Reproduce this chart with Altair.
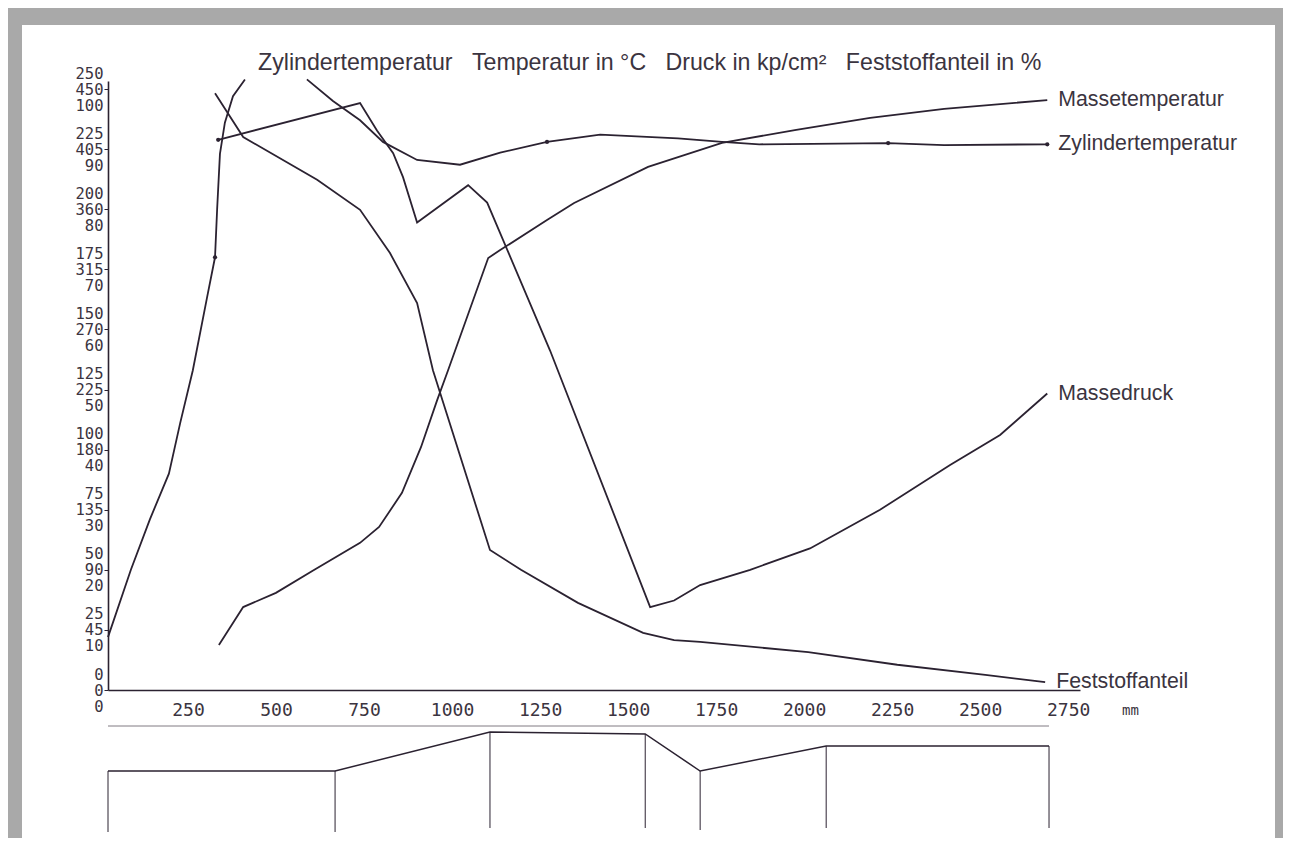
import altair as alt
import pandas as pd

INK = "#2b2231"
TXT = "#3b3440"
GRAU = "#a9a9a9"

TITEL = "Zylindertemperatur\u00a0\u00a0\u00a0Temperatur in °C\u00a0\u00a0\u00a0Druck in kp/cm²\u00a0\u00a0\u00a0Feststoffanteil in %"

# x in mm; temperatures in °C (0-250 scale), pressure in kp/cm² (0-450 scale), solids in % (0-100 scale)
zyl_a_x = [0, 65, 119, 173, 205, 241, 281, 304, 310, 318, 332, 355, 389]
zyl_a_y = [22, 50, 71, 90, 111, 133, 163, 180, 200, 223, 236, 247, 254]
zyl_c_x = [565, 639, 716, 781, 878, 1000, 1114, 1247, 1398, 1619, 1744, 1850, 2216, 2375, 2668]
zyl_c_y = [254, 245, 237, 228, 220.5, 218.5, 223.5, 228, 231, 229.5, 228, 227, 227.5, 226.7, 227]
masse_t_x = [315, 384, 477, 585, 716, 770, 835, 889, 935, 966, 1080, 1114, 1247, 1324, 1534, 1744, 1955, 2165, 2375, 2668]
masse_t_y = [18.7, 34.5, 40.4, 49.9, 61.2, 67.8, 82, 101, 120.6, 133, 179.7, 183, 195.5, 202.6, 217.6, 227.6, 233, 238, 241.7, 245.4]
druck_x = [313, 716, 764, 810, 838, 878, 1023, 1077, 1256, 1540, 1608, 1682, 1824, 1994, 2193, 2392, 2534, 2668]
druck_y = [412, 439.5, 419, 402, 384, 350, 378, 365, 254, 62, 67, 78.6, 90, 106, 135, 168.5, 191, 222]
fest_x = [304, 384, 594, 716, 801, 878, 923, 1085, 1173, 1335, 1520, 1608, 1682, 1989, 2242, 2492, 2662]
fest_y = [99.3, 92, 84.9, 79.9, 72.7, 64.4, 53.2, 23.3, 20, 14.5, 9.5, 8.3, 8, 6.3, 4.2, 2.5, 1.3]

punkte_zyl = [304, 1247, 2216, 2668]
punkte_druck = [313]

# screw profile (schematic below the axis)
schnecke_x = [0, 645, 1085, 1526, 1682, 2040, 2673]
schnecke_h = [61, 61, 100, 98, 61, 86, 86]
schnecke_fuss = [0, 0, 4, 4, 2, 4, 4]
schnecke_oben = 106

y_ticks = [0, 45, 90, 135, 180, 225, 270, 315, 360, 405, 450]
x_ticks = [0, 250, 500, 750, 1000, 1250, 1500, 1750, 2000, 2250, 2500, 2750]

rows = []


def add(name, seg, xs, ys, factor, dots=()):
    for x, v in zip(xs, ys):
        rows.append({"kurve": name, "seg": seg, "x": x, "wert": v, "y": v * factor, "dot": x in dots})


add("Zylindertemperatur", "za", zyl_a_x, zyl_a_y, 1.8, punkte_zyl)
add("Zylindertemperatur", "zc", zyl_c_x, zyl_c_y, 1.8, punkte_zyl)
add("Massetemperatur", "mt", masse_t_x, masse_t_y, 1.8)
add("Massedruck", "md", druck_x, druck_y, 1.0, punkte_druck)
add("Feststoffanteil", "fs", fest_x, fest_y, 4.5)
df = pd.DataFrame(rows)

ends = []
for name, seg in [("Massetemperatur", "mt"), ("Zylindertemperatur", "zc"), ("Massedruck", "md"), ("Feststoffanteil", "fs")]:
    sub = df[df.seg == seg]
    last = sub.iloc[-1]
    ends.append({"name": name, "x": float(last.x), "y": float(last.y)})
end_df = pd.DataFrame(ends)

schn_df = pd.DataFrame({"x": schnecke_x, "h": schnecke_h, "fuss": schnecke_fuss})
oben_df = pd.DataFrame({"x": [schnecke_x[0]], "x2": [schnecke_x[-1]], "h": [schnecke_oben]})

x_axis = alt.Axis(
    values=x_ticks, format="d", labelExpr="datum.value == 0 ? '' : datum.label",
    labelFont="DejaVu Sans Mono", labelFontSize=18, labelColor=TXT, labelPadding=11,
    labelOffset=-8, tickSize=0, domainColor=INK, domainWidth=1.6, grid=False,
    labelOverlap=False, labelFlush=False, zindex=1,
    title="mm", titleFont="DejaVu Sans Mono", titleFontSize=14, titleFontWeight="normal",
    titleColor=TXT, titleX=1022, titleY=20, titleAlign="center", titleBaseline="middle", titleAngle=0,
)
x_scale = alt.Scale(domain=[0, 2761], nice=False, zero=False)
x_enc = alt.X("x:Q", scale=x_scale, axis=x_axis)

y_axis = alt.Axis(
    values=y_ticks, format="d",
    labelExpr="[format(datum.value/1.8,'d'), datum.label, format(datum.value/4.5,'d')]",
    labelFont="DejaVu Sans Mono", labelFontSize=15.5, labelLineHeight=16, labelOffset=-16,
    labelBaseline="middle", labelAlign="right", labelPadding=1, labelColor=TXT,
    tickSize=4, tickColor=INK, domainColor=INK, domainWidth=1.6, grid=False,
    labelOverlap=False, labelFlush=False, zindex=1, title=None,
)
y_scale = alt.Scale(domain=[0, 456], nice=False)
y_enc = alt.Y("y:Q", scale=y_scale, axis=y_axis)

lines = alt.Chart(df).mark_line(color=INK, strokeWidth=1.8).encode(
    x=x_enc, y=y_enc, detail="seg:N", order="x:Q")
dots = alt.Chart(df).transform_filter("datum.dot").mark_circle(size=18, color=INK, opacity=1).encode(
    x=x_enc, y=y_enc)
labels = alt.Chart(end_df).mark_text(align="left", baseline="middle", dx=11, font="Liberation Sans",
                                     fontSize=21.3, color=TXT).encode(x=x_enc, y=y_enc, text="name:N")
main = alt.layer(lines, dots, labels)

ys = alt.Y("h:Q", scale=alt.Scale(domain=[0, 106], range=[751, 645], nice=False, zero=False), axis=None)
profil = alt.Chart(schn_df).mark_line(color=INK, strokeWidth=1.5).encode(x=x_enc, y=ys)
senk = alt.Chart(schn_df).mark_rule(color=INK, strokeWidth=1).encode(x=x_enc, y=ys, y2="fuss:Q")
oben = alt.Chart(oben_df).mark_rule(color=INK, strokeWidth=1, opacity=0.6).encode(
    x=x_enc, x2="x2:Q", y=ys)
schema = alt.layer(profil, senk, oben)

bg = alt.Chart(pd.DataFrame({"a": [0]})).mark_rect(color="white").encode(
    x=alt.value(-86), x2=alt.value(1167), y=alt.value(-56), y2=alt.value(800))
titel = alt.Chart(pd.DataFrame({"t": [TITEL]})).mark_text(
    align="left", baseline="alphabetic", font="Liberation Sans", fontSize=23.2, color=TXT).encode(
    x=alt.value(150), y=alt.value(-11), text="t:N")

chart = alt.layer(bg, schema, main, titel).resolve_scale(y="independent").properties(
    width=972, height=609,
    padding={"left": 100, "top": 73, "right": 203, "bottom": 148},
    autosize=alt.AutoSizeParams(type="none"),
    background=GRAU,
).configure_view(stroke=None)

chart.save("out.html", embed_options={"renderer": "svg", "actions": False})
